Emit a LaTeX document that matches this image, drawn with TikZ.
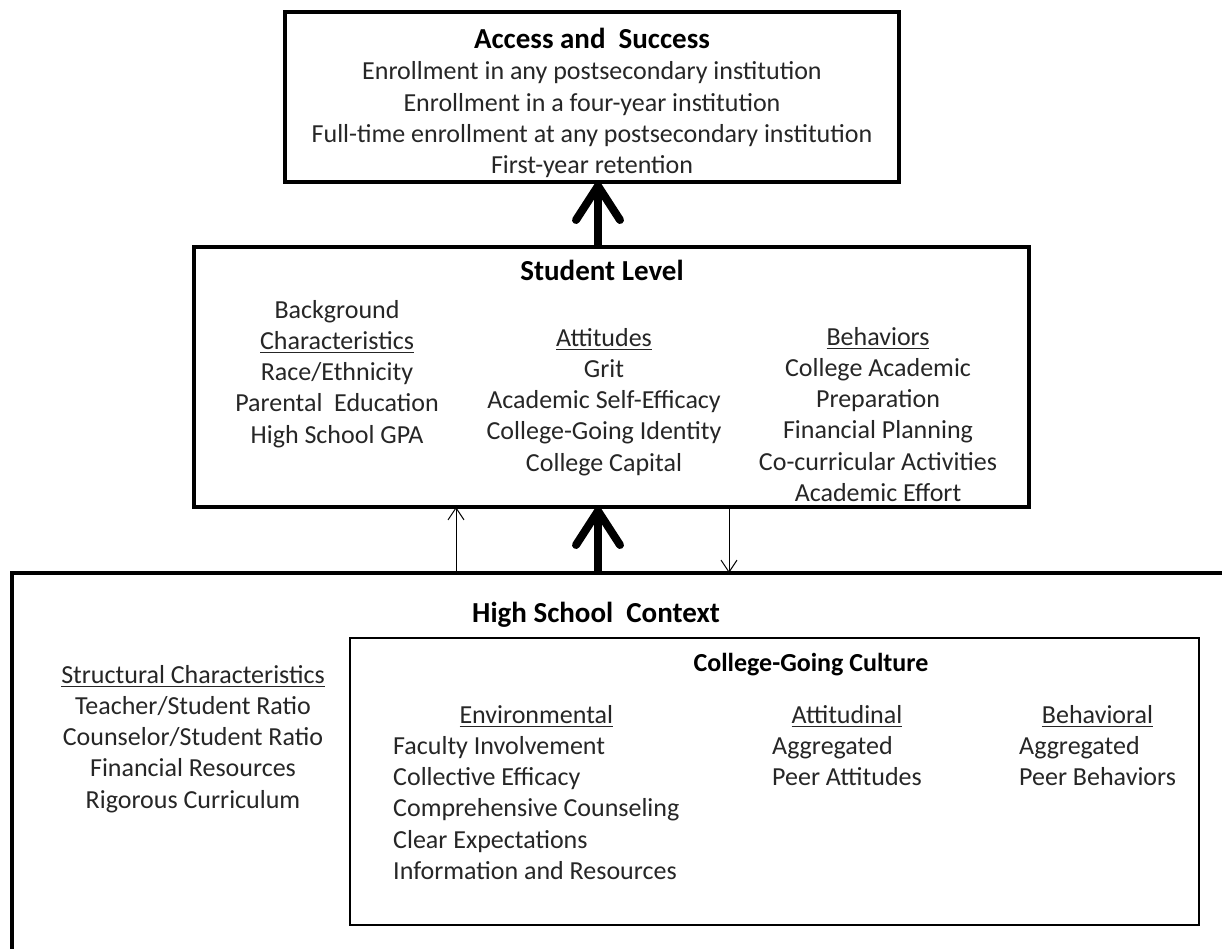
\documentclass[tikz,border=0pt]{standalone}
\usepackage{fontspec}
\setmainfont{Carlito}
\usetikzlibrary{arrows.meta}
\newcommand{\myul}[1]{\vtop{\hbox{#1}\kern2.5pt\hrule height 1.4pt}}
\begin{document}
\begin{tikzpicture}[x=1pt,y=-1pt,
  box/.style={draw, line width=3.5pt, inner sep=0pt, outer sep=0pt, anchor=north west},
  ibox/.style={draw, line width=2.2pt, inner sep=0pt, outer sep=0pt, anchor=north west},
  body/.style={inner sep=0pt, anchor=base, text=black!85, font=\fontsize{26}{31.25}\selectfont},
  ttl/.style={inner sep=0pt, anchor=base, text=black, font=\fontsize{29}{34}\selectfont\bfseries},
  sttl/.style={inner sep=0pt, anchor=base, text=black, font=\fontsize{26}{31}\selectfont\bfseries},
  big/.style={line width=8pt, -{Straight Barb[length=34pt,width=44pt,round]}},
  thin/.style={line width=1pt, -{Straight Barb[length=12pt,width=16pt]}}]
\useasboundingbox (0,0) rectangle (1222,949);
\clip (0,0) rectangle (1222,949);
\fill[white] (0,0) rectangle (1222,949);

% boxes
\node[box, minimum width=614pt, minimum height=170pt] (as) at (285,12) {};
\node[box, minimum width=835pt, minimum height=260pt] (sl) at (194,247) {};
\node[box, minimum width=1300pt, minimum height=500pt] (hs) at (12,573) {};
\node[ibox, minimum width=849pt, minimum height=287pt] (cgc) at (350,638) {};

% arrows
\coordinate (xa) at (598,0);
\coordinate (xu) at (456,0);
\coordinate (xd) at (729,0);
\draw[big] (sl.north -| xa) -- (as.south -| xa);
\draw[big] (hs.north -| xa) -- (sl.south -| xa);
\draw[thin] (hs.north -| xu) -- (sl.south -| xu);
\draw[thin] (sl.south -| xd) -- (hs.north -| xd);

% access and success
\node[ttl] (ast) at (592,49) {Access and\ \ Success};
\node[body] (asb) at (592,80) {\begin{tabular}[t]{@{}c@{}}Enrollment in any postsecondary institution\\ Enrollment in a four-year institution\\ Full-time enrollment at any postsecondary institution\\ First-year retention\end{tabular}};

% student level
\node[ttl] (slt) at (602,281) {Student Level};
\node[body] (bg) at (337,318) {\begin{tabular}[t]{@{}c@{}}Background\\ \myul{Characteristics}\\ Race/Ethnicity\\ Parental\ \ Education\\ High School GPA\end{tabular}};
\node[body] (att) at (604,346) {\begin{tabular}[t]{@{}c@{}}\myul{Attitudes}\\ Grit\\ Academic Self-Efficacy\\ College-Going Identity\\ College Capital\end{tabular}};
\node[body] (beh) at (878,345) {\begin{tabular}[t]{@{}c@{}}\myul{Behaviors}\\ College Academic\\ Preparation\\ Financial Planning\\ Co-curricular Activities\\ Academic Effort\end{tabular}};

% high school context
\node[ttl] (hst) at (596,622) {High School\ \ Context};
\node[sttl] (cgct) at (811,671) {College-Going Culture};
\node[body] (str) at (193,683) {\begin{tabular}[t]{@{}c@{}}\myul{Structural Characteristics}\\ Teacher/Student Ratio\\ Counselor/Student Ratio\\ Financial Resources\\ Rigorous Curriculum\end{tabular}};
\node[body, anchor=base west] (env) at (393,723) {\begin{tabular}[t]{@{}l@{}}\multicolumn{1}{@{}c@{}}{\myul{Environmental}}\\ Faculty Involvement\\ Collective Efficacy\\ Comprehensive Counseling\\ Clear Expectations\\ Information and Resources\end{tabular}};
\node[body, anchor=base west] (attd) at (772,723) {\begin{tabular}[t]{@{}l@{}}\multicolumn{1}{@{}c@{}}{\myul{Attitudinal}}\\ Aggregated\\ Peer Attitudes\end{tabular}};
\node[body, anchor=base west] (behv) at (1019,723) {\begin{tabular}[t]{@{}l@{}}\multicolumn{1}{@{}c@{}}{\myul{Behavioral}}\\ Aggregated\\ Peer Behaviors\end{tabular}};
\end{tikzpicture}
\end{document}
